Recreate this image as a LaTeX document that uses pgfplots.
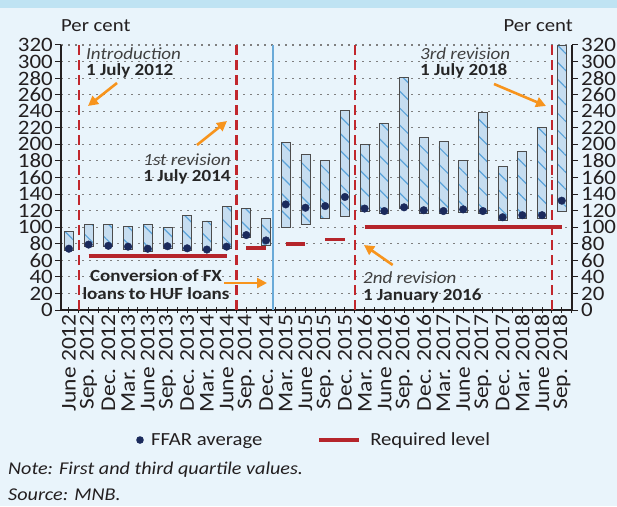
\documentclass[border=0pt]{standalone}
\usepackage{pgfplots}
\pgfplotsset{compat=1.18}
\usepackage{pgfplotstable}
\usepackage{fontspec}
\setmainfont{Carlito}[FakeStretch=1.12]
\usetikzlibrary{arrows.meta,patterns.meta}

\definecolor{bgblue}{HTML}{E9F4FB}
\definecolor{bandblue}{HTML}{BFE3F3}
\definecolor{barfill}{HTML}{C6DDF0}
\definecolor{hatch}{HTML}{5BA3D9}
\definecolor{navy}{HTML}{1B2A5C}
\definecolor{reqred}{HTML}{B5252B}
\definecolor{dashred}{HTML}{C1272D}
\definecolor{convblue}{HTML}{6AAAD8}
\definecolor{arrorange}{HTML}{F7941D}
\definecolor{txt}{HTML}{231F20}
\definecolor{gridgray}{HTML}{7F7F7F}

\pgfplotstableread{
x q1 q3 avg
0 72 94.5 74
1 77 103.5 79
2 76.5 103.5 77.5
3 73 100.5 76.5
4 70.5 103.5 74
5 74.5 99.5 77
6 72.5 114 74.5
7 71.5 107.5 73
8 74.5 124.5 76.5
9 87.5 123 90.5
10 77.5 110.5 84
11 100 202.5 127.5
12 103 188 123.5
13 110 180.5 125.5
14 112.5 241.5 136.5
15 119.5 199.5 122.5
16 116.5 225.5 119.5
17 122.5 280.5 124
18 116.5 208 120.5
19 116.5 204 119.5
20 118 180.5 121.5
21 116.5 239 119.5
22 108.5 173 112
23 110.5 191 114.5
24 110.5 220.5 114.5
25 119.5 320 132
}\bardata

\pgfplotstableread{
x req
1 65
8 65
8.5 nan
9 75
10 75
10.5 nan
11 80
12 80
12.5 nan
13 85
14 85
14.5 nan
15 100
25 100
}\reqdata

\newcommand{\fs}[1]{\fontsize{#1}{#1}\selectfont}

\begin{document}
\begin{tikzpicture}
\path[use as bounding box] (0pt,0pt) rectangle (617pt,506pt);
\fill[bgblue] (0pt,0pt) rectangle (617pt,506pt);
\fill[bandblue] (0pt,498pt) rectangle (617pt,506pt);

% ---------- axis 1: grid, bars, left and bottom axis ----------
\begin{axis}[
  at={(61pt,196pt)}, anchor=south west,
  scale only axis, width=511pt, height=265pt,
  xmin=-0.4, xmax=25.52, ymin=0, ymax=320,
  axis x line=bottom, axis y line=left,
  axis line style={-, line width=1.6pt, draw=txt},
  ybar stacked, bar width=9pt,
  ytick={0,20,...,320},
  xtick={0,...,25},
  minor xtick={0.5,1.5,...,25.5},
  xticklabels={June 2012,Sep. 2012,Dec. 2012,Mar. 2013,June 2013,Sep. 2013,Dec. 2013,Mar. 2014,June 2014,Sep. 2014,Dec. 2014,Mar. 2015,June 2015,Sep. 2015,Dec. 2015,Mar. 2016,June 2016,Sep. 2016,Dec. 2016,Mar. 2017,June 2017,Sep. 2017,Dec. 2017,Mar. 2018,June 2018,Sep. 2018},
  xticklabel style={rotate=90, anchor=east, font=\fs{21}, text=txt, inner sep=1pt},
  yticklabel style={font=\fs{20.5}, text=txt, inner sep=0.5pt, xshift=-1.5pt},
  /pgf/number format/assume math mode=true,
  ymajorgrids,
  grid style={dash pattern=on 2pt off 5pt, line width=1.1pt, gridgray},
  major tick length=6pt, minor tick length=6pt,
  x tick style={line width=1pt, txt},
  y tick style={line width=1pt, txt},
  xtick align=center, ytick align=outside,
  clip=false,
]
\addplot[draw=none, fill=none] table[x=x, y=q1] {\bardata};
\addplot[fill=barfill, draw=black!70, line width=0.9pt,
  postaction={pattern={Lines[angle=-45,distance=12pt,line width=1.2pt]}, pattern color=hatch}]
  table[x=x, y expr=\thisrow{q3}-\thisrow{q1}] {\bardata};
\end{axis}

% ---------- axis 2: overlays, right axis, legend ----------
\begin{axis}[
  at={(61pt,196pt)}, anchor=south west,
  scale only axis, width=511pt, height=265pt,
  xmin=-0.4, xmax=25.52, ymin=0, ymax=320,
  axis x line=none, axis y line=right,
  axis line style={-, line width=1.6pt, draw=txt},
  ytick={0,20,...,320},
  yticklabel style={font=\fs{20.5}, text=txt, inner sep=0.5pt, xshift=2.5pt},
  /pgf/number format/assume math mode=true,
  major tick length=6pt,
  y tick style={line width=1pt, txt},
  ytick align=outside,
  unbounded coords=jump,
  clip=false,
  legend columns=2,
  legend style={at={(0.1409,-0.4906)}, anchor=west, draw=none, fill=none,
    inner sep=0pt, outer sep=0pt,
    font=\fs{18.5}, text=txt,
    /tikz/every even column/.append style={column sep=53pt}},
]
\addplot[dashred, dash pattern=on 10pt off 5pt, line width=2.2pt, forget plot] coordinates {(0.5,0) (0.5,320)};
\addplot[dashred, dash pattern=on 10pt off 5pt, line width=2.2pt, forget plot] coordinates {(8.5,0) (8.5,320)};
\addplot[dashred, dash pattern=on 10pt off 5pt, line width=2.2pt, forget plot] coordinates {(14.5,0) (14.5,320)};
\addplot[dashred, dash pattern=on 10pt off 5pt, line width=2.2pt, forget plot] coordinates {(24.5,0) (24.5,320)};
\addplot[convblue, line width=2pt, forget plot] coordinates {(10.33,0) (10.33,320)};
\addplot[only marks, mark=*, mark size=3.8pt, navy, mark options={draw=navy, fill=navy},
  legend image code/.code={\path[draw=none, fill=none] (0pt,0pt) -- (16pt,0pt); \fill[navy, draw=none] (7pt,0pt) circle (3.8pt);}]
  table[x=x, y=avg] {\bardata};
\addlegendentry{FFAR average}
\addplot[reqred, line width=3.6pt,
  legend image code/.code={\draw[reqred, line width=3.6pt] (0pt,0pt) -- (40pt,0pt); \path[draw=none] (49pt,0pt);}]
  table[x=x, y=req] {\reqdata};
\addlegendentry{Required level}
\end{axis}

% ---------- texts ----------
\node[anchor=base west, font=\fs{18.5}, text=txt, inner sep=0pt] at (61pt,474pt) {Per cent};
\node[anchor=base east, font=\fs{18.5}, text=txt, inner sep=0pt] at (573pt,474pt) {Per cent};

\node[anchor=base west, font=\fs{17}\itshape, text=black!75, inner sep=0pt] at (86pt,446pt) {Introduction};
\node[anchor=base west, font=\fs{17}\bfseries, text=black!85, inner sep=0pt] at (86pt,430pt) {1 July 2012};

\node[anchor=base, font=\fs{17}\itshape, text=black!75, inner sep=0pt] at (187pt,340pt) {1st revision};
\node[anchor=base, font=\fs{17}\bfseries, text=black!85, inner sep=0pt] at (187pt,324pt) {1 July 2014};

\node[anchor=base, font=\fs{17}\bfseries, text=black!85, inner sep=0pt] at (156pt,224pt) {Conversion of FX};
\node[anchor=base, font=\fs{17}\bfseries, text=black!85, inner sep=0pt] at (156pt,207pt) {loans to HUF loans};

\node[anchor=base west, font=\fs{17}\itshape, text=black!75, inner sep=0pt] at (363pt,222.7pt) {2nd revision};
\node[anchor=base west, font=\fs{17}\bfseries, text=black!85, inner sep=0pt] at (363pt,206pt) {1 January 2016};

\node[anchor=base west, font=\fs{17}\itshape, text=black!75, inner sep=0pt] at (420pt,446.7pt) {3rd revision};
\node[anchor=base west, font=\fs{17}\bfseries, text=black!85, inner sep=0pt] at (420pt,430pt) {1 July 2018};

\node[anchor=base west, font=\fs{18}\itshape, text=txt, inner sep=0pt] at (8pt,32pt) {Note: First and third quartile values.};
\node[anchor=base west, font=\fs{18}\itshape, text=txt, inner sep=0pt] at (8pt,6pt) {Source: MNB.};

% ---------- arrows ----------
\begin{scope}[arrorange, line width=2.6pt, -{Triangle[length=10pt,width=10pt]}]
\draw (117pt,423pt) -- (88pt,400pt);
\draw (197pt,361pt) -- (227pt,385pt);
\draw (224pt,223pt) -- (267pt,223pt);
\draw (392.7pt,241pt) -- (364pt,261pt);
\draw (494pt,422pt) -- (546pt,400pt);
\end{scope}
\end{tikzpicture}
\end{document}
